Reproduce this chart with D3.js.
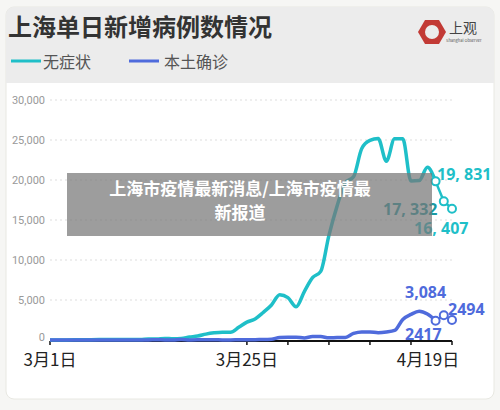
<!DOCTYPE html><html><head><meta charset="utf-8"><script src="https://cdn.jsdelivr.net/npm/d3@7"></script>
<style>body{margin:0;background:#f6f6f4}svg{display:block;font-family:"Noto Sans CJK SC","Noto Sans",sans-serif}</style></head><body><svg id="c" width="500" height="410"></svg>
<script>
const title="上海单日新增病例数情况";
const seriesNames=["无症状","本土确诊"];
const asymptomatic=[1,3,14,16,28,45,51,58,76,64,78,64,128,130,197,150,203,366,492,734,896,981,979,1582,2231,2631,3450,4381,5656,5298,4144,6051,7788,8581,13086,16766,19660,20398,23937,24944,25173,22348,25141,25146,19872,19923,21582,19831,17332,16407];
const confirmed=[2,0,3,3,0,3,1,3,4,11,1,1,5,41,5,8,57,8,17,24,31,4,4,29,38,45,50,96,326,355,358,260,438,425,268,311,322,824,1015,1006,914,994,1189,2573,3200,3590,3238,2417,3084,2494];
const yTicks=[0,5000,10000,15000,20000,25000,30000];
const xLabels=[["3月1日",0],["3月25日",24],["4月19日",49]];
const overlay=["上海市疫情最新消息/上海市疫情最","新报道"];
const colors=["#1fbfc8","#4f6bdc"];
const svg=d3.select("#c");
svg.append("rect").attr("x",6).attr("y",7).attr("width",488).attr("height",392).attr("rx",8).attr("fill","#fff").attr("stroke","#e8e8e2");
svg.append("path").attr("d","M6,83V15a8,8 0 0 1 8,-8H486a8,8 0 0 1 8,8V83Z").attr("fill","#ececec");
svg.append("text").attr("x",8).attr("y",36).attr("font-size",24).attr("font-weight",700).attr("fill","#333").text(title);
seriesNames.forEach((n,i)=>{const x0=i?129:11;
 svg.append("line").attr("x1",x0).attr("x2",x0+30).attr("y1",61).attr("y2",61).attr("stroke",colors[i]).attr("stroke-width",3);
 svg.append("text").attr("x",x0+(i?35:32)).attr("y",68).attr("font-size",16).attr("fill","#555").text(n);});
const lg=svg.append("g").attr("transform","translate(432,32)");
lg.append("path").attr("d",d3.range(6).map((k,j)=>(j?"L":"M")+(14*Math.cos(Math.PI/3*k))+","+(14*Math.sin(Math.PI/3*k))).join("")+"Z").attr("fill","#c23a35");
lg.append("circle").attr("r",7).attr("fill","#ececec");
svg.append("text").attr("x",449).attr("y",33).attr("font-size",14).attr("fill","#444").text("上观");
svg.append("text").attr("x",446).attr("y",42).attr("font-size",4).attr("fill","#555").text("Shanghai Observer");
const x=d3.scaleLinear().domain([0,49]).range([50,452]);
const y=d3.scaleLinear().domain([0,30000]).range([340,100]);
yTicks.forEach(t=>{
 if(t>0)svg.append("line").attr("x1",50).attr("x2",452).attr("y1",y(t)).attr("y2",y(t)).attr("stroke","#ddd").attr("stroke-dasharray","2,3");
 svg.append("text").attr("x",45).attr("y",y(t)+(t?4:1)).attr("text-anchor","end").attr("font-size",11).attr("fill","#999").attr("font-family","Roboto").text(d3.format(",")(t));});
svg.append("line").attr("x1",50).attr("x2",452).attr("y1",341).attr("y2",341).attr("stroke","#111").attr("stroke-width",2);
[0,24,29,34,39,44,49].forEach(d=>svg.append("line").attr("x1",x(d)).attr("x2",x(d)).attr("y1",341).attr("y2",345).attr("stroke","#111").attr("stroke-width",1.5));
xLabels.forEach(([l,d])=>svg.append("text").attr("x",x(d)-(d==49?24:0)).attr("y",366).attr("text-anchor","middle").attr("font-size",17).attr("fill","#222").text(l));
[asymptomatic,confirmed].forEach((s,i)=>{
 const line=d3.line().x((d,j)=>x(j)).y(d=>y(d)).curve(d3.curveMonotoneX);
 svg.append("path").attr("d",line(s.slice(0,s.length-2))).attr("fill","none").attr("stroke",colors[i]).attr("stroke-width",3.5);
 svg.append("path").attr("fill","none").attr("stroke",colors[i]).attr("stroke-width",2.5)
  .attr("d",d3.line().x(d=>x(d[0])).y(d=>y(d[1]))(s.slice(-3).map((v,k)=>[s.length-3+k,v])));
 s.slice(-3).forEach((v,k)=>svg.append("circle").attr("cx",x(s.length-3+k)).attr("cy",y(v)).attr("r",4).attr("fill","#fff").attr("stroke",colors[i]).attr("stroke-width",2));
});
const lab=(t,xx,yy,c)=>svg.append("text").attr("x",xx).attr("y",yy).attr("font-size",16).attr("font-weight",700).attr("fill",c).attr("font-family","Noto Sans").text(t);
lab("19, 831",437,180,colors[0]);lab("17, 332",383,215,"#1a9aa3");lab("16, 407",414,234,colors[0]);
lab("3,084",405,298,colors[1]);lab("2494",448,315,colors[1]);lab("2417",405,340,colors[1]);
svg.append("rect").attr("x",67).attr("y",173).attr("width",365).attr("height",63).attr("fill","#777").attr("opacity",0.72);
overlay.forEach((t,i)=>svg.append("text").attr("x",240).attr("y",195+i*24).attr("text-anchor","middle").attr("font-size",17).attr("font-weight",700).attr("fill","#fff").text(t));
</script></body></html>
